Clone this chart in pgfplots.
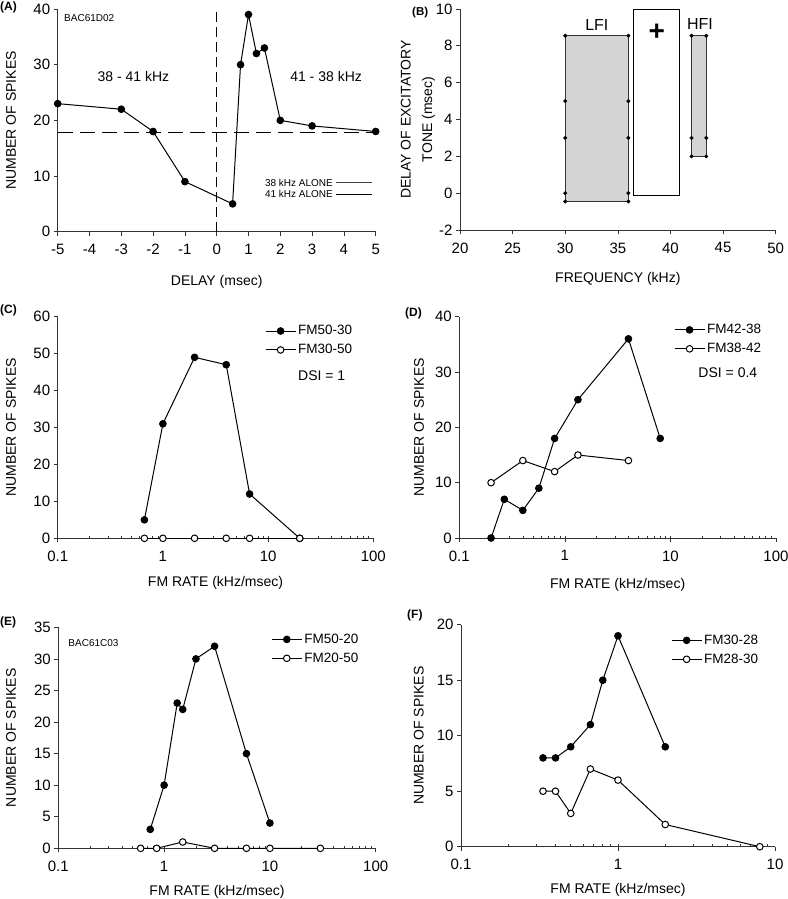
\documentclass[border=0pt]{standalone}
\usepackage{fontspec}
\setmainfont{Liberation Sans}
\usepackage{pgfplots}
\pgfplotsset{compat=1.18}
\pgfplotsset{
  panel/.style={
    scale only axis, clip=false,
    axis x line*=bottom, axis y line*=left,
    axis line style={black!80, line width=0.7pt},
    tick style={black!80, line width=0.7pt},
    tick align=outside, major tick length=4pt, minor tick length=2.5pt,
    minor tick style={yshift=2.5pt},
    /pgf/number format/assume math mode=true,
    ticklabel style={font=\fontsize{15}{17}\selectfont},
    xticklabel style={yshift=-5pt},
    label style={font=\fontsize{14}{16}\selectfont},
    ylabel style={anchor=center},
    xlabel style={anchor=center},
    legend style={draw=none, fill=none, font=\fontsize{13.5}{16}\selectfont, anchor=north west, row sep=4pt,
      /tikz/every even column/.append style={column sep=8pt}},
    legend cell align=left,
    legend image code/.code={\draw[mark repeat=2,mark phase=2] plot coordinates {(0pt,0pt) (15pt,0pt) (30pt,0pt)};},
  },
  filled/.style={black, line width=1pt, mark=*, mark size=3.3pt, mark options={solid, fill=black}},
  open/.style={black, line width=1pt, mark=*, mark size=3.3pt, mark options={solid, fill=white}},
}
\begin{document}
\begin{tikzpicture}
\useasboundingbox (0pt,-899pt) rectangle (787pt,0pt);
% panel labels
\node[anchor=west, inner sep=0pt, font=\fontsize{12}{14}\selectfont\bfseries] at (0pt,-7.5pt) {(A)};
\node[anchor=west, inner sep=0pt, font=\fontsize{11.5}{14}\selectfont\bfseries] at (412pt,-13pt) {(B)};
\node[anchor=west, inner sep=0pt, font=\fontsize{12}{14}\selectfont\bfseries] at (0pt,-310pt) {(C)};
\node[anchor=west, inner sep=0pt, font=\fontsize{12}{14}\selectfont\bfseries] at (405pt,-313pt) {(D)};
\node[anchor=west, inner sep=0pt, font=\fontsize{12}{14}\selectfont\bfseries] at (0pt,-622.7pt) {(E)};
\node[anchor=west, inner sep=0pt, font=\fontsize{12}{14}\selectfont\bfseries] at (407pt,-615pt) {(F)};

% ---------------- (A)
\begin{axis}[panel, at={(57.7pt,-231.7pt)}, anchor=south west, width=318pt, height=222.7pt,
  xmin=-5, xmax=5, ymin=0, ymax=40,
  xtick={-5,-4,-3,-2,-1,0,1,2,3,4,5}, ytick={0,10,20,30,40},
  xlabel={DELAY (msec)}, ylabel={NUMBER OF SPIKES},
  xlabel style={at={(axis description cs:0.5,-0.2245)}},
  ylabel style={at={(axis description cs:-0.147,0.5)}}]
\addplot[black, line width=0.9pt, dash pattern=on 15pt off 7pt] coordinates {(-5,17.8) (5,17.8)};
\addplot[black, line width=0.9pt, dash pattern=on 10pt off 5pt] coordinates {(0,0) (0,39.5)};
\addplot[filled] coordinates {(-5,23) (-3,22) (-2,18) (-1,9) (0.5,5) (0.75,30) (1,39) (1.25,32) (1.5,33) (2,20) (3,19) (5,18)};
\node[anchor=west, font=\fontsize{10}{12}\selectfont] at (rel axis cs:0.0094,0.961) {BAC61D02};
\node[font=\fontsize{14}{16}\selectfont] at (axis cs:-2.62,27.8) {38 - 41 kHz};
\node[font=\fontsize{14}{16}\selectfont] at (axis cs:3.44,27.8) {41 - 38 kHz};
\node[anchor=east, inner sep=0pt, font=\fontsize{10}{12}\selectfont] at (axis cs:3.66,8.8) {38 kHz ALONE};
\node[anchor=east, inner sep=0pt, font=\fontsize{10}{12}\selectfont] at (axis cs:3.66,6.72) {41 kHz ALONE};
\draw[black!75, line width=0.9pt] (axis cs:3.75,8.8) -- (axis cs:4.88,8.8);
\draw[black, line width=1.5pt] (axis cs:3.75,6.72) -- (axis cs:4.88,6.72);
\end{axis}

% ---------------- (B)
\begin{axis}[panel, at={(460pt,-230pt)}, anchor=south west, width=315.7pt, height=221pt,
  xmin=20, xmax=50, ymin=-2, ymax=10,
  xtick={20,25,30,35,40,45,50}, ytick={-2,0,2,4,6,8,10},
  xlabel={FREQUENCY (kHz)}, ylabel={DELAY OF EXCITATORY\\TONE (msec)},
  xlabel style={at={(axis description cs:0.5,-0.219)}},
  ylabel style={at={(axis description cs:-0.133,0.5)}, align=center, font=\fontsize{14}{21.5}\selectfont}]
\addplot[fill=black!17, draw=black!80, line width=0.9pt] coordinates {(30,-0.45) (36,-0.45) (36,8.55) (30,8.55)} -- cycle;
\addplot[fill=white, draw=black, line width=0.9pt] coordinates {(36.5,-0.15) (40.9,-0.15) (40.9,10) (36.5,10)} -- cycle;
\addplot[fill=black!17, draw=black!80, line width=0.9pt] coordinates {(42,2) (43.4,2) (43.4,8.55) (42,8.55)} -- cycle;
\addplot[only marks, mark=*, mark size=1.8pt, black] coordinates {(30,8.55) (30,5) (30,3) (30,0) (30,-0.45) (36,8.55) (36,5) (36,3) (36,0) (36,-0.45) (42,8.55) (42,3) (42,2) (43.4,8.55) (43.4,3) (43.4,2)};
\node[font=\fontsize{16}{18}\selectfont] at (axis cs:33,9.15) {LFI};
\node[font=\fontsize{16}{18}\selectfont] at (axis cs:42.8,9.2) {HFI};
\node[font=\fontsize{28}{28}\selectfont\bfseries] at (axis cs:38.7,8.75) {+};
\end{axis}

% ---------------- (C)
\begin{axis}[panel, at={(57.7pt,-538.3pt)}, anchor=south west, width=315.6pt, height=221.6pt,
  xmode=log, xmin=0.1, xmax=100, ymin=0, ymax=60,
  xtick={0.1,1,10,100}, xticklabels={0.1,1,10,100}, ytick={0,10,20,30,40,50,60},
  xlabel={FM RATE (kHz/msec)}, ylabel={NUMBER OF SPIKES},
  xlabel style={at={(axis description cs:0.5,-0.203)}},
  ylabel style={at={(axis description cs:-0.148,0.5)}},
  legend style={at={(0.647,0.979)}}]
\addplot[filled] coordinates {(0.667,5) (1,31) (2,49) (4,47) (6.67,12) (20,0)};
\addlegendentry{FM50-30}
\addplot[open] coordinates {(0.667,0) (1,0) (2,0) (4,0) (6.67,0) (20,0)};
\addlegendentry{FM30-50}
\node[font=\fontsize{14}{16}\selectfont] at (rel axis cs:0.8365,0.732) {DSI = 1};
\end{axis}

% ---------------- (D)
\begin{axis}[panel, at={(459.3pt,-538pt)}, anchor=south west, width=316.7pt, height=221.3pt,
  xmode=log, xmin=0.1, xmax=100, ymin=0, ymax=40,
  xtick={0.1,1,10,100}, xticklabels={0.1,1,10,100}, ytick={0,10,20,30,40},
  xlabel={FM RATE (kHz/msec)}, ylabel={NUMBER OF SPIKES},
  xlabel style={at={(axis description cs:0.5,-0.212)}},
  ylabel style={at={(axis description cs:-0.127,0.5)}},
  legend style={at={(0.668,0.984)}}]
\addplot[filled] coordinates {(0.2,0) (0.267,7) (0.4,5) (0.567,9) (0.8,18) (1.33,25) (4,36) (8,18)};
\addlegendentry{FM42-38}
\addplot[open] coordinates {(0.2,10) (0.4,14) (0.8,12) (1.33,15) (4,14)};
\addlegendentry{FM38-42}
\node[font=\fontsize{14}{16}\selectfont] at (rel axis cs:0.848,0.747) {DSI = 0.4};
\end{axis}

% ---------------- (E)
\begin{axis}[panel, at={(58.3pt,-848.3pt)}, anchor=south west, width=317.4pt, height=221pt,
  xmode=log, xmin=0.1, xmax=100, ymin=0, ymax=35,
  xtick={0.1,1,10,100}, xticklabels={0.1,1,10,100}, ytick={0,5,10,15,20,25,30,35},
  xlabel={FM RATE (kHz/msec)}, ylabel={NUMBER OF SPIKES},
  xlabel style={at={(axis description cs:0.5,-0.196)}},
  ylabel style={at={(axis description cs:-0.149,0.5)}},
  legend style={at={(0.661,0.989)}}]
\addplot[filled] coordinates {(0.74,3) (1,10) (1.33,23) (1.5,22) (2,30) (3,32) (6,15) (10,4)};
\addlegendentry{FM50-20}
\addplot[open] coordinates {(0.6,0) (0.85,0) (1.5,1) (3,0) (6,0) (10,0) (30,0)};
\addlegendentry{FM20-50}
\node[anchor=west, font=\fontsize{10}{12}\selectfont] at (rel axis cs:0.021,0.93) {BAC61C03};
\end{axis}

% ---------------- (F)
\begin{axis}[panel, at={(461pt,-846.7pt)}, anchor=south west, width=314pt, height=222pt,
  xmode=log, xmin=0.1, xmax=10, ymin=0, ymax=20,
  xtick={0.1,1,10}, xticklabels={0.1,1,10}, ytick={0,5,10,15,20},
  xlabel={FM RATE (kHz/msec)}, ylabel={NUMBER OF SPIKES},
  xlabel style={at={(axis description cs:0.5,-0.195)}},
  ylabel style={at={(axis description cs:-0.134,0.5)}},
  legend style={at={(0.659,0.973)}}]
\addplot[filled] coordinates {(0.333,8) (0.4,8) (0.5,9) (0.667,11) (0.8,15) (1,19) (2,9)};
\addlegendentry{FM30-28}
\addplot[open] coordinates {(0.333,5) (0.4,5) (0.5,3) (0.667,7) (1,6) (2,2) (8,0)};
\addlegendentry{FM28-30}
\end{axis}
\end{tikzpicture}
\end{document}
